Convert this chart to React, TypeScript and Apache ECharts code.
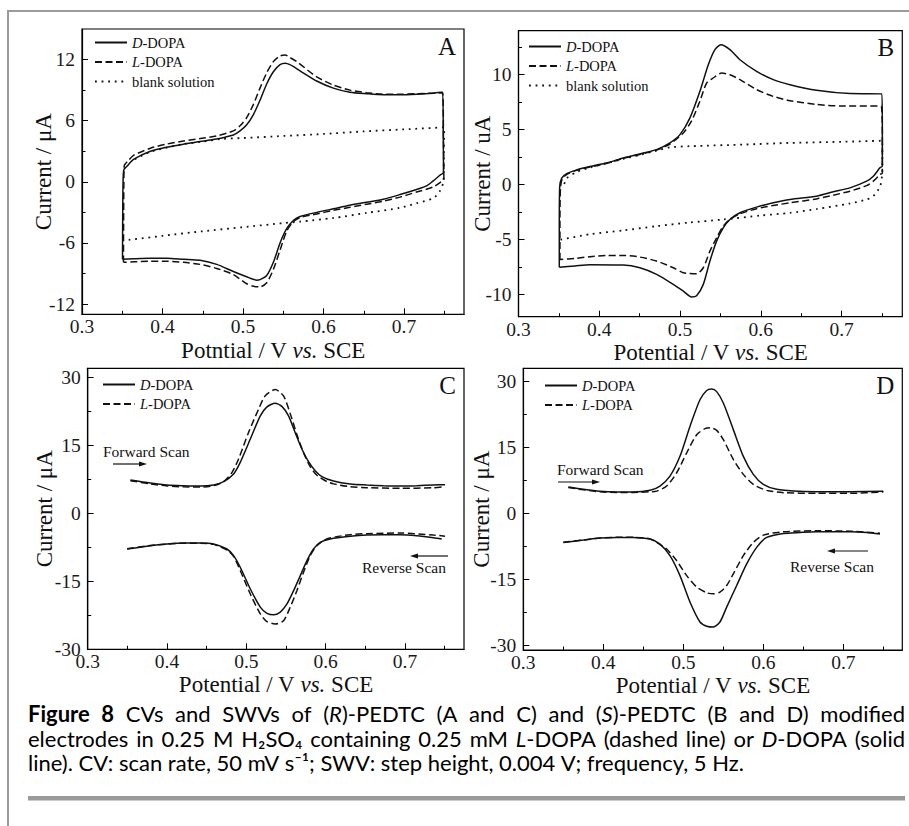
import React, { useEffect, useRef } from "react";
import * as echarts from "echarts";

type Pt = [number, number];

const SERIF = "'Liberation Serif', 'Times New Roman', Times, serif";
const SANS = "Lato, 'Open Sans', 'Noto Sans', 'DejaVu Sans', sans-serif";

// ---------- tick values ----------
const X_TICKS = [0.3, 0.4, 0.5, 0.6, 0.7];
const X_MINOR = [0.35, 0.45, 0.55, 0.65, 0.75];
const A_Y_TICKS = [-12, -6, 0, 6, 12];
const A_Y_MINOR = [-9, -3, 3, 9];
const B_Y_TICKS = [-10, -5, 0, 5, 10];
const B_Y_MINOR = [-7.5, -2.5, 2.5, 7.5, 12.5];
const CD_Y_TICKS = [-30, -15, 0, 15, 30];
const CD_Y_MINOR = [-22.5, -7.5, 7.5, 22.5];

// ---------- Panel A : CV of (R)-PEDTC ----------
const A_D_DOPA: Pt[] = [
  [0.3503, -7.6], [0.3505, -4.0], [0.351, 0.0], [0.352, 1.2], [0.3556, 1.5], [0.364, 2.2], [0.385, 3.0],
  [0.405, 3.4], [0.426, 3.7], [0.447, 3.95], [0.467, 4.2], [0.488, 4.6], [0.4963, 5.0], [0.5046, 5.6],
  [0.5129, 6.6], [0.5211, 8.0], [0.5294, 9.6], [0.5377, 10.8], [0.546, 11.5], [0.5522, 11.65],
  [0.5583, 11.5], [0.5708, 10.9], [0.5915, 9.9], [0.6122, 9.2], [0.6328, 8.8], [0.6535, 8.65],
  [0.6742, 8.55], [0.6949, 8.55], [0.7156, 8.6], [0.7363, 8.7], [0.748, 8.8], [0.7488, 4.0],
  [0.749, 0.9], [0.7455, 0.7], [0.7363, 0.1], [0.728, -0.4], [0.7156, -0.75], [0.6949, -1.25],
  [0.6742, -1.7], [0.6535, -2.0], [0.6328, -2.3], [0.6122, -2.65], [0.5915, -3.0], [0.5708, -3.4],
  [0.5625, -3.8], [0.5542, -4.6], [0.546, -6.0], [0.5377, -7.9], [0.5294, -9.2], [0.5211, -9.6],
  [0.517, -9.65], [0.5087, -9.45], [0.488, -8.8], [0.4674, -8.1], [0.4467, -7.7], [0.426, -7.6],
  [0.4053, -7.5], [0.3846, -7.5], [0.3639, -7.55], [0.3503, -7.6],
];
const A_L_DOPA: Pt[] = [
  [0.3515, -7.9], [0.3517, -4.0], [0.352, 0.0], [0.3525, 1.6], [0.3577, 2.1], [0.364, 2.6], [0.385, 3.3],
  [0.405, 3.7], [0.426, 4.0], [0.447, 4.25], [0.467, 4.5], [0.488, 5.0], [0.4963, 5.5], [0.5046, 6.3],
  [0.5129, 7.6], [0.5211, 9.2], [0.5294, 10.7], [0.5377, 11.8], [0.546, 12.35], [0.5522, 12.45],
  [0.5583, 12.2], [0.5666, 11.8], [0.5749, 11.3], [0.5915, 10.3], [0.6122, 9.5], [0.6328, 9.0],
  [0.6535, 8.75], [0.6742, 8.6], [0.6949, 8.6], [0.7156, 8.65], [0.7363, 8.7], [0.748, 8.75],
  [0.749, 4.0], [0.7495, 0.2], [0.7455, -0.03], [0.7363, -0.5], [0.7156, -1.0], [0.6949, -1.5],
  [0.6742, -1.9], [0.6535, -2.2], [0.6328, -2.5], [0.6122, -2.8], [0.5915, -3.15], [0.5708, -3.5],
  [0.5625, -3.9], [0.5542, -4.85], [0.546, -6.7], [0.5377, -8.6], [0.5294, -9.9], [0.521, -10.3],
  [0.5129, -10.25], [0.5046, -10.0], [0.488, -9.1], [0.4674, -8.5], [0.4467, -8.1], [0.426, -7.9],
  [0.4053, -7.8], [0.3846, -7.8], [0.3639, -7.85], [0.3515, -7.9],
];
const A_BLANK: Pt[] = [
  [0.358, -5.7], [0.4, -5.3], [0.45, -4.85], [0.5, -4.45], [0.55, -4.05], [0.5708, -3.9], [0.6122, -3.55],
  [0.6535, -3.05], [0.6949, -2.55], [0.7156, -2.1], [0.7363, -1.6], [0.7446, -0.9], [0.749, 0.1],
  [0.7495, 3.0], [0.75, 5.35], [0.7, 5.15], [0.65, 4.95], [0.6, 4.7], [0.55, 4.5], [0.5, 4.3],
  [0.4716, 4.2], [0.45, 3.95], [0.426, 3.7], [0.405, 3.35], [0.385, 2.95], [0.364, 2.15],
];

// ---------- Panel B : CV of (S)-PEDTC ----------
const B_D_DOPA: Pt[] = [
  [0.3505, -7.5], [0.3505, -4.0], [0.351, -0.2], [0.3535, 0.6], [0.3597, 1.0], [0.372, 1.35], [0.3884, 1.65],
  [0.41, 2.0], [0.4297, 2.43], [0.45, 2.8], [0.471, 3.19], [0.4875, 3.8], [0.4999, 4.55], [0.5123, 6.07],
  [0.5246, 8.49], [0.535, 10.9], [0.5432, 12.28], [0.5506, 12.72], [0.5618, 12.28], [0.5742, 11.36],
  [0.5948, 10.3], [0.6154, 9.55], [0.6361, 9.09], [0.6691, 8.58], [0.7104, 8.28], [0.7496, 8.25],
  [0.7505, 5.0], [0.7505, 1.7], [0.7475, 1.53], [0.7393, 0.77], [0.731, 0.32], [0.7104, -0.29],
  [0.6898, -0.65], [0.6691, -1.04], [0.6361, -1.34], [0.6154, -1.65], [0.5948, -2.04], [0.5742, -2.55],
  [0.5618, -3.16], [0.5535, -3.92], [0.5453, -5.13], [0.537, -6.94], [0.5288, -9.06], [0.5205, -10.1],
  [0.5143, -10.2], [0.504, -9.67], [0.4916, -9.06], [0.471, -8.15], [0.4503, -7.55], [0.4297, -7.3],
  [0.3884, -7.27], [0.37, -7.38], [0.3505, -7.5],
];
const B_L_DOPA: Pt[] = [
  [0.3513, -6.8], [0.3513, -3.0], [0.352, -0.3], [0.354, 0.5], [0.36, 0.95], [0.372, 1.3], [0.3884, 1.6],
  [0.41, 1.95], [0.4297, 2.4], [0.45, 2.75], [0.471, 3.15], [0.4875, 3.7], [0.504, 4.7], [0.5143, 5.8],
  [0.5246, 7.6], [0.5329, 9.24], [0.5411, 9.7], [0.5515, 10.15], [0.5618, 10.0], [0.5742, 9.55],
  [0.5948, 8.64], [0.6154, 8.03], [0.6361, 7.64], [0.669, 7.3], [0.7, 7.15], [0.749, 7.15],
  [0.7505, 4.0], [0.7505, 1.07], [0.7475, 0.92], [0.7393, 0.32], [0.731, -0.08], [0.7104, -0.59],
  [0.6898, -0.95], [0.6691, -1.29], [0.6361, -1.65], [0.6154, -1.89], [0.5948, -2.19], [0.5742, -2.65],
  [0.5618, -3.16], [0.5535, -3.77], [0.5453, -4.83], [0.537, -6.04], [0.5288, -7.55], [0.5205, -8.09],
  [0.504, -8.0], [0.4916, -7.55], [0.471, -6.94], [0.4503, -6.58], [0.4297, -6.43], [0.4091, -6.43],
  [0.3884, -6.55], [0.37, -6.7], [0.3513, -6.8],
];
const B_BLANK: Pt[] = [
  [0.352, -5.0], [0.3884, -4.5], [0.43, -4.15], [0.471, -3.77], [0.51, -3.45], [0.5535, -3.16], [0.6, -2.8],
  [0.6361, -2.56], [0.67, -2.2], [0.71, -1.71], [0.731, -1.35], [0.7393, -1.04], [0.748, -0.1],
  [0.7505, 1.5], [0.7505, 4.0], [0.7, 3.9], [0.6361, 3.8], [0.58, 3.65], [0.5123, 3.5], [0.4875, 3.4],
  [0.471, 3.1], [0.45, 2.7], [0.4297, 2.35], [0.3884, 1.55], [0.372, 1.15], [0.36, 0.6], [0.355, -0.3],
];

// ---------- Panel C : SWV of (R)-PEDTC ----------
const C_D_FWD: Pt[] = [
  [0.3538, 7.35], [0.379, 6.69], [0.4, 6.25], [0.421, 6.1], [0.442, 6.03], [0.4586, 6.25], [0.4714, 6.99],
  [0.4839, 8.68], [0.4923, 11.25], [0.505, 16.4], [0.5176, 21.5], [0.526, 23.5], [0.5364, 24.3],
  [0.5448, 23.6], [0.5532, 21.5], [0.5616, 17.8], [0.57, 14.2], [0.5784, 11.4], [0.5868, 9.4],
  [0.5952, 8.1], [0.6099, 7.13], [0.6309, 6.47], [0.6519, 6.25], [0.6729, 6.1], [0.6939, 6.03],
  [0.7148, 6.1], [0.7358, 6.25], [0.7505, 6.32],
];
const C_L_FWD: Pt[] = [
  [0.3538, 7.2], [0.379, 6.5], [0.4, 6.05], [0.421, 5.85], [0.442, 5.8], [0.4586, 6.1], [0.4714, 7.0],
  [0.4818, 9.0], [0.4902, 12.0], [0.5029, 17.9], [0.5155, 23.0], [0.5239, 25.96], [0.5364, 27.3],
  [0.5469, 25.9], [0.5553, 22.0], [0.5637, 17.4], [0.5721, 13.4], [0.5805, 10.3], [0.5889, 8.4],
  [0.6015, 7.0], [0.6099, 6.5], [0.6309, 5.88], [0.6519, 5.66], [0.6939, 5.51], [0.7358, 5.66],
  [0.7505, 5.88],
];
const C_D_REV: Pt[] = [
  [0.3497, -7.87], [0.379, -7.13], [0.4, -6.76], [0.421, -6.54], [0.442, -6.54], [0.4586, -6.76],
  [0.4755, -7.87], [0.4839, -9.34], [0.4923, -11.9], [0.505, -16.7], [0.5176, -20.7], [0.526, -22.06],
  [0.5344, -22.4], [0.5428, -21.8], [0.5512, -20.0], [0.5596, -17.06], [0.568, -13.75], [0.5764, -10.44],
  [0.5847, -7.87], [0.5931, -6.4], [0.6057, -5.66], [0.6309, -5.07], [0.6519, -4.78], [0.6729, -4.7],
  [0.6939, -4.7], [0.7148, -4.93], [0.7358, -5.37], [0.7463, -5.66],
];
const C_L_REV: Pt[] = [
  [0.3497, -7.8], [0.379, -7.1], [0.4, -6.8], [0.421, -6.6], [0.442, -6.6], [0.4586, -6.85], [0.4755, -8.1],
  [0.4839, -9.5], [0.4923, -12.6], [0.505, -17.8], [0.5176, -22.2], [0.526, -23.9], [0.5364, -24.4],
  [0.5469, -23.7], [0.5553, -20.7], [0.5637, -17.06], [0.5721, -13.0], [0.5805, -9.34], [0.5889, -7.13],
  [0.6015, -5.66], [0.6309, -4.7], [0.6519, -4.48], [0.6939, -4.34], [0.7358, -4.78], [0.7505, -5.07],
];

// ---------- Panel D : SWV of (S)-PEDTC ----------
const D_D_FWD: Pt[] = [
  [0.3563, 6.03], [0.375, 5.5], [0.3958, 5.05], [0.4167, 4.9], [0.4375, 4.9], [0.4583, 5.27], [0.4708, 6.25],
  [0.4833, 8.5], [0.4958, 13.0], [0.5083, 19.8], [0.5208, 25.85], [0.5292, 27.96], [0.5354, 28.3],
  [0.5417, 27.7], [0.55, 25.1], [0.5625, 19.07], [0.575, 13.0], [0.5875, 8.9], [0.6, 6.63], [0.6167, 5.5],
  [0.6458, 5.05], [0.6667, 4.97], [0.7083, 4.97], [0.75, 5.05],
];
const D_L_FWD: Pt[] = [
  [0.3563, 5.9], [0.375, 5.4], [0.3958, 4.95], [0.4167, 4.8], [0.4375, 4.8], [0.4583, 4.95], [0.4667, 5.1],
  [0.4792, 6.25], [0.4917, 9.27], [0.5042, 13.8], [0.5167, 17.9], [0.5271, 19.3], [0.5333, 19.5],
  [0.5417, 18.9], [0.55, 16.8], [0.5625, 12.3], [0.575, 8.9], [0.5875, 6.63], [0.6042, 5.27], [0.625, 4.75],
  [0.6667, 4.6], [0.7083, 4.6], [0.75, 4.9],
];
const D_D_REV: Pt[] = [
  [0.35, -6.56], [0.375, -6.03], [0.3958, -5.58], [0.4167, -5.43], [0.4375, -5.43], [0.4583, -5.8],
  [0.4708, -6.93], [0.4833, -9.57], [0.4958, -14.1], [0.5083, -20.1], [0.5208, -24.64], [0.5292, -25.6],
  [0.5375, -25.8], [0.5458, -24.64], [0.5542, -21.25], [0.5667, -16.35], [0.5792, -11.45], [0.5917, -7.69],
  [0.6042, -5.43], [0.625, -4.52], [0.6458, -4.3], [0.6667, -4.14], [0.7083, -4.14], [0.7292, -4.3],
  [0.7458, -4.67],
];
const D_L_REV: Pt[] = [
  [0.35, -6.5], [0.375, -6.0], [0.3958, -5.55], [0.4167, -5.4], [0.4375, -5.4], [0.4583, -5.75],
  [0.4667, -6.56], [0.4792, -8.06], [0.4917, -10.7], [0.5042, -14.1], [0.5167, -16.7], [0.5292, -18.0],
  [0.5375, -18.24], [0.5458, -17.86], [0.5542, -16.35], [0.5625, -13.7], [0.575, -9.57], [0.5875, -6.56],
  [0.6, -4.9], [0.625, -4.14], [0.6667, -3.92], [0.7083, -4.0], [0.7458, -4.45],
];

// ---------- caption text (markup: **bold**, *italic*) ----------
const CAPTION_LINES = [
  "**Figure** **8** CVs and SWVs of (*R*)-PEDTC (A and C) and (*S*)-PEDTC (B and D) modified",
  "electrodes in 0.25 M H₂SO₄ containing 0.25 mM *L*-DOPA (dashed line) or *D*-DOPA (solid",
  "line). CV: scan rate, 50 mV s⁻¹; SWV: step height, 0.004 V; frequency, 5 Hz.",
];
const CAPTION_JUSTIFY = [true, true, false];

// ---------- styles ----------
const INK = "#111";
const SOLID = { color: INK, width: 1.5, type: "solid" as any };
const DASHED = { color: INK, width: 1.5, type: [7, 3.5] as any };
const DOTTED = { color: INK, width: 1.8, type: [1.8, 4.8] as any };

const PANELS = [
  {
    letter: "A", box: [82, 29, 464, 314.3], xMax: 0.7745, yMin: -13, yMax: 15,
    yTicks: A_Y_TICKS, yMinor: A_Y_MINOR, yName: "Current / μA", xName: "Potntial / V {i|vs.} SCE",
    yGap: 27, xGap: 25, legendPos: [94, 35], legendData: ["D-DOPA", "L-DOPA", "blank solution"],
    series: [["D-DOPA", A_D_DOPA, SOLID], ["L-DOPA", A_L_DOPA, DASHED], ["blank solution", A_BLANK, DOTTED]],
  },
  {
    letter: "B", box: [518.5, 30.7, 902.3, 316.7], xMax: 0.7752, yMin: -12, yMax: 14,
    yTicks: B_Y_TICKS, yMinor: B_Y_MINOR, yName: "Current / uA", xName: "Potential / V {i|vs.} SCE",
    yGap: 25, xGap: 24, legendPos: [528, 39], legendData: ["D-DOPA", "L-DOPA", "blank solution"],
    series: [["D-DOPA", B_D_DOPA, SOLID], ["L-DOPA", B_L_DOPA, DASHED], ["blank solution", B_BLANK, DOTTED]],
  },
  {
    letter: "C", box: [87.7, 368.3, 464, 649.3], xMax: 0.7744, yMin: -30, yMax: 32,
    yTicks: CD_Y_TICKS, yMinor: CD_Y_MINOR, yName: "Current / μA", xName: "Potential / V {i|vs.} SCE",
    yGap: 32, xGap: 23.5, legendPos: [102, 377], legendData: ["D-DOPA", "L-DOPA"],
    series: [["D-DOPA", C_D_FWD, SOLID], ["L-DOPA", C_L_FWD, DASHED], ["D-DOPA", C_D_REV, SOLID], ["L-DOPA", C_L_REV, DASHED]],
  },
  {
    letter: "D", box: [523.3, 368.3, 902.3, 650], xMax: 0.7737, yMin: -31, yMax: 33,
    yTicks: CD_Y_TICKS, yMinor: CD_Y_MINOR, yName: "Current / μA", xName: "Potential / V {i|vs.} SCE",
    yGap: 30, xGap: 23.5, legendPos: [544, 378], legendData: ["D-DOPA", "L-DOPA"],
    series: [["D-DOPA", D_D_FWD, SOLID], ["L-DOPA", D_L_FWD, DASHED], ["D-DOPA", D_D_REV, SOLID], ["L-DOPA", D_L_REV, DASHED]],
  },
];

// scan annotations: [text, textLeft, textCenterY, arrowX1, arrowX2, arrowY]
const SCAN_NOTES: [string, number, number, number, number, number][] = [
  ["Forward Scan", 103, 451, 113, 147, 464],
  ["Reverse Scan", 362, 567, 448, 410, 556],
  ["Forward Scan", 557, 469, 558, 600, 482],
  ["Reverse Scan", 790, 566, 868, 827, 551],
];

type Frag = [string, string];
function parseWord(w: string): Frag[] {
  const out: Frag[] = [];
  let mode = "n";
  let buf = "";
  let i = 0;
  const flush = () => { if (buf) out.push([buf, mode]); buf = ""; };
  while (i < w.length) {
    if (w.startsWith("**", i)) { flush(); mode = mode === "b" ? "n" : "b"; i += 2; continue; }
    const c = w[i];
    if (c === "*") { flush(); mode = mode === "i" ? "n" : "i"; i++; continue; }
    buf += c; i++;
  }
  flush();
  return out;
}

function buildCaption(): any[] {
  const canvas = document.createElement("canvas");
  const ctx = canvas.getContext("2d")!;
  const cssOf = (mode: string, fs: number) =>
    `${mode === "i" ? "italic" : "normal"} ${mode === "b" ? "bold" : "normal"} ${fs}px ${SANS}`;
  const measure = (txt: string, mode: string, fs: number) => {
    ctx.font = cssOf(mode, fs);
    return ctx.measureText(txt).width;
  };
  const lines = CAPTION_LINES.map((l) => l.split(" ").map(parseWord));
  const wordW = (w: Frag[], fs: number) => w.reduce((s, f) => s + measure(f[0], f[1], fs), 0);
  const LEFT = 28, RIGHT = 905, LAST_RIGHT = 765;
  const refFs = 20;
  const last = lines[2];
  const natural = last.reduce((s, w) => s + wordW(w, refFs), 0) + (last.length - 1) * measure(" ", "n", refFs);
  const fs = Math.max(13, Math.min(22, (refFs * (LAST_RIGHT - LEFT)) / natural));
  const spaceW = measure(" ", "n", fs);
  const Ln = fs * 1.2;
  const rich: any = {
    n: { fontFamily: SANS, fontSize: fs, lineHeight: Ln, color: "#000" },
    b: { fontFamily: SANS, fontSize: fs, lineHeight: Ln, fontWeight: "bold", color: "#000" },
    i: { fontFamily: SANS, fontSize: fs, lineHeight: Ln, fontStyle: "italic", color: "#000" },
  };
  const baselines = [721.5, 746, 770.7];
  const els: any[] = [];
  lines.forEach((words, li) => {
    const widths = words.map((w) => wordW(w, fs));
    const total = widths.reduce((a, b) => a + b, 0);
    const gap = CAPTION_JUSTIFY[li] ? (RIGHT - LEFT - total) / (words.length - 1) : spaceW;
    let x = LEFT;
    words.forEach((w, wi) => {
      const plain = w.length === 1 && w[0][1] === "n";
      const text = plain ? w[0][0] : w.map(([t, m]) => `{${m}|${t}}`).join("");
      els.push({
        type: "text", x, y: baselines[li] - fs * 0.36, silent: true,
        style: {
          text, rich: plain ? undefined : rich, fill: "#000", fontFamily: SANS, fontSize: fs,
          align: "left", verticalAlign: "middle",
        },
      });
      x += widths[wi] + gap;
    });
  });
  return els;
}

function buildOption(): any {
  const grid: any[] = [], xAxis: any[] = [], yAxis: any[] = [], series: any[] = [], legend: any[] = [];
  const graphic: any[] = [];
  const axisLine = { show: true, onZero: false, lineStyle: { color: "#000", width: 1.2 } };
  const tickStyle = { color: "#000", width: 1 };
  const labelStyle = { fontFamily: SERIF, fontSize: 19.5, color: "#1a1a1a", lineHeight: 19 };
  const nameStyle = {
    fontFamily: SERIF, fontSize: 23, color: "#111",
    rich: { i: { fontFamily: SERIF, fontSize: 23, fontStyle: "italic", color: "#111" } },
  };
  PANELS.forEach((p, i) => {
    const [l, t, r, b] = p.box;
    grid.push({
      left: l, top: t, width: r - l, height: b - t, show: true, borderColor: "#000", borderWidth: 1.2,
      backgroundColor: "transparent", containLabel: false, outerBoundsMode: "none",
    });
    xAxis.push({
      gridIndex: i, type: "value", position: "bottom", min: 0.3, max: p.xMax, axisLine,
      axisTick: { show: true, inside: true, length: 6, customValues: X_TICKS, lineStyle: tickStyle },
      axisLabel: { ...labelStyle, margin: 3, customValues: X_TICKS, formatter: (v: number) => v.toFixed(1) },
      splitLine: { show: false }, minorTick: { show: false },
      name: p.xName, nameLocation: "middle", nameGap: p.xGap, nameTextStyle: nameStyle, nameMoveOverlap: false,
    });
    xAxis.push({
      gridIndex: i, type: "value", position: "bottom", offset: 0, min: 0.3, max: p.xMax,
      axisLine: { show: false, onZero: false },
      axisTick: { show: true, inside: true, length: 3.5, customValues: X_MINOR, lineStyle: tickStyle },
      axisLabel: { show: false }, splitLine: { show: false },
    });
    yAxis.push({
      gridIndex: i, type: "value", position: "left", min: p.yMin, max: p.yMax, axisLine,
      axisTick: { show: true, inside: true, length: 6, customValues: p.yTicks, lineStyle: tickStyle },
      axisLabel: { ...labelStyle, margin: 7, customValues: p.yTicks, formatter: (v: number) => String(v) },
      splitLine: { show: false },
      name: p.yName, nameLocation: "middle", nameGap: p.yGap, nameTextStyle: nameStyle, nameMoveOverlap: false,
    });
    yAxis.push({
      gridIndex: i, type: "value", position: "left", offset: 0, min: p.yMin, max: p.yMax,
      axisLine: { show: false, onZero: false },
      axisTick: { show: true, inside: true, length: 3.5, customValues: p.yMinor, lineStyle: tickStyle },
      axisLabel: { show: false }, splitLine: { show: false },
    });
    p.series.forEach(([name, data, ls]: any) => {
      series.push({
        type: "line", name, data, xAxisIndex: 2 * i, yAxisIndex: 2 * i, symbol: "none", showSymbol: false,
        smooth: 0.25, lineStyle: ls, itemStyle: { color: INK }, silent: true, z: 3,
        emphasis: { disabled: true },
      });
    });
    legend.push({
      left: p.legendPos[0], top: p.legendPos[1], orient: "vertical", itemWidth: 32, itemHeight: 14, itemGap: 4.5,
      padding: 0, selectedMode: false, data: p.legendData,
      itemStyle: { opacity: 0 },
      formatter: (name: string) =>
        name === "D-DOPA" ? "{i|D}{n|-DOPA}" : name === "L-DOPA" ? "{i|L}{n|-DOPA}" : "{n|" + name + "}",
      textStyle: {
        fontFamily: SERIF, fontSize: 14.5, color: INK,
        rich: {
          i: { fontFamily: SERIF, fontSize: 14.5, fontStyle: "italic", color: INK },
          n: { fontFamily: SERIF, fontSize: 14.5, color: INK },
        },
      },
    });
    graphic.push({
      type: "text", x: r - 8, y: t + 17, silent: true,
      style: { text: p.letter, fontFamily: SERIF, fontSize: 25, fill: "#111", align: "right", verticalAlign: "middle" },
    });
  });

  SCAN_NOTES.forEach(([txt, tx, ty, x1, x2, ay]) => {
    graphic.push({
      type: "text", x: tx, y: ty, silent: true,
      style: { text: txt, fontFamily: SERIF, fontSize: 15.5, fill: "#111", align: "left", verticalAlign: "middle" },
    });
    const dir = x2 > x1 ? 1 : -1;
    graphic.push({
      type: "line", silent: true, shape: { x1, y1: ay, x2: x2 - dir * 6, y2: ay },
      style: { stroke: "#111", lineWidth: 1.2 },
    });
    graphic.push({
      type: "polygon", silent: true,
      shape: { points: [[x2, ay], [x2 - dir * 8, ay - 2.6], [x2 - dir * 8, ay + 2.6]] },
      style: { fill: "#111" },
    });
  });

  // page frame
  graphic.push({ type: "line", silent: true, shape: { x1: 8, y1: 11, x2: 909, y2: 11 }, style: { stroke: "#9a9a9a", lineWidth: 2 } });
  graphic.push({ type: "line", silent: true, shape: { x1: 8, y1: 10, x2: 8, y2: 826 }, style: { stroke: "#9a9a9a", lineWidth: 2 } });
  graphic.push({ type: "line", silent: true, shape: { x1: 28, y1: 798.3, x2: 905, y2: 798.3 }, style: { stroke: "#9a9a9a", lineWidth: 4.5 } });

  graphic.push(...buildCaption());

  return {
    animation: false,
    backgroundColor: "#fff",
    textStyle: { fontFamily: SERIF },
    grid, xAxis, yAxis, series, legend, graphic,
  };
}

export default function App() {
  const ref = useRef<HTMLDivElement>(null);
  useEffect(() => {
    const chart = echarts.init(ref.current!, null, { renderer: "svg" });
    chart.setOption(buildOption());
    return () => chart.dispose();
  }, []);
  return (
    <div
      ref={ref}
      style={{ position: "absolute", left: 0, top: 0, width: 909, height: 826, background: "#fff" }}
    />
  );
}
